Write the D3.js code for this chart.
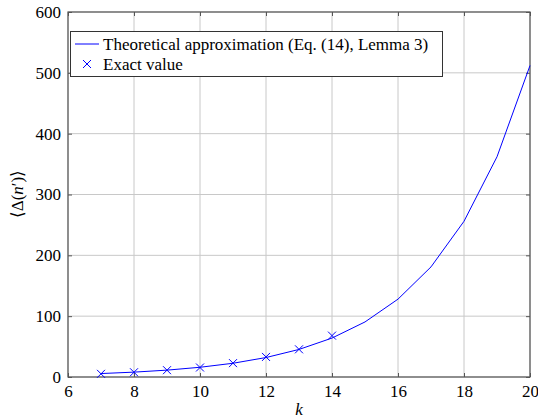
<!DOCTYPE html>
<html><head><meta charset="utf-8">
<script src="https://cdn.jsdelivr.net/npm/d3@7"></script>
</head><body style="margin:0">
<svg id="c" width="538" height="420"></svg>
<script>
const kTheory = [7,8,9,10,11,12,13,14,15,16,17,18,19,20];
const theoryValues = [5.66,8,11.3,16,22.6,32,45.3,64,90.5,128,181,256,362,512];
const kExact = [7,8,9,10,11,12,13,14];
const exactValues = [5.2,7.8,11.2,15.6,22.8,33,45.5,68];
const xTicks = [6,8,10,12,14,16,18,20];
const yTicks = [0,100,200,300,400,500,600];

const FONT = "'Liberation Serif'";
const FS = 17;
const svg = d3.select("#c");
const L=68,R=530,T=12,B=377;
const x = d3.scaleLinear().domain([6,20]).range([L,R]);
const y = d3.scaleLinear().domain([0,600]).range([B,T]);

svg.append("g").selectAll("line").data(xTicks).join("line")
  .attr("x1",d=>x(d)).attr("x2",d=>x(d)).attr("y1",T).attr("y2",B)
  .attr("stroke","#c8c8c8").attr("stroke-width",1);
svg.append("g").selectAll("line").data(yTicks).join("line")
  .attr("y1",d=>y(d)).attr("y2",d=>y(d)).attr("x1",L).attr("x2",R)
  .attr("stroke","#c8c8c8").attr("stroke-width",1);

const ax = svg.append("g").attr("transform",`translate(0,${B})`)
  .call(d3.axisBottom(x).tickValues(xTicks).tickSize(-4).tickPadding(8));
const ay = svg.append("g").attr("transform",`translate(${L},0)`)
  .call(d3.axisLeft(y).tickValues(yTicks).tickSize(-4).tickPadding(7));
const at = svg.append("g").attr("transform",`translate(0,${T})`)
  .call(d3.axisTop(x).tickValues(xTicks).tickSize(-4).tickFormat(""));
const ar = svg.append("g").attr("transform",`translate(${R},0)`)
  .call(d3.axisRight(y).tickValues(yTicks).tickSize(-4).tickFormat(""));
[ax,ay,at,ar].forEach(g=>{
  g.attr("font-family",null).attr("font-size",null);
  g.select(".domain").remove();
  g.selectAll(".tick line").attr("stroke","#555");
  g.selectAll("text").style("font-family",FONT).attr("font-size",FS).attr("fill","#000");
});
svg.append("rect").attr("x",L).attr("y",T).attr("width",R-L).attr("height",B-T)
  .attr("fill","none").attr("stroke","#555").attr("stroke-width",1.2);

const line = d3.line().x((d,i)=>x(kTheory[i])).y(d=>y(d));
svg.append("path").datum(theoryValues).attr("d",line)
  .attr("fill","none").attr("stroke","#0000ff").attr("stroke-width",1);

const s=4;
svg.append("g").selectAll("path").data(exactValues).join("path")
  .attr("d",(d,i)=>{const cx=x(kExact[i]),cy=y(d);return `M${cx-s},${cy-s}L${cx+s},${cy+s}M${cx-s},${cy+s}L${cx+s},${cy-s}`;})
  .attr("stroke","#0000ff").attr("stroke-width",1).attr("fill","none");

const lg = svg.append("g");
lg.append("rect").attr("x",70.5).attr("y",31.5).attr("width",372).attr("height",45)
  .attr("fill","#fff").attr("stroke","#333").attr("stroke-width",1);
lg.append("line").attr("x1",75).attr("x2",99).attr("y1",44).attr("y2",44).attr("stroke","#0000ff");
lg.append("path").attr("d",`M${87-s},${64-s}L${87+s},${64+s}M${87-s},${64+s}L${87+s},${64-s}`)
  .attr("stroke","#0000ff").attr("fill","none");
lg.append("text").attr("x",103).attr("y",49.5).style("font-family",FONT).attr("font-size",FS)
  .text("Theoretical approximation (Eq. (14), Lemma 3)");
lg.append("text").attr("x",103).attr("y",69.5).style("font-family",FONT).attr("font-size",FS)
  .text("Exact value");

svg.append("text").attr("x",299).attr("y",415).attr("text-anchor","middle")
  .style("font-family",FONT).attr("font-style","italic").attr("font-size",FS).text("k");
const yl = svg.append("text").attr("transform","translate(23,194) rotate(-90)").attr("text-anchor","middle")
  .style("font-family",FONT).attr("font-size",FS);
yl.append("tspan").text("⟨Δ(");
yl.append("tspan").attr("font-style","italic").text("n");
yl.append("tspan").text("′)⟩");
</script>
</body></html>
